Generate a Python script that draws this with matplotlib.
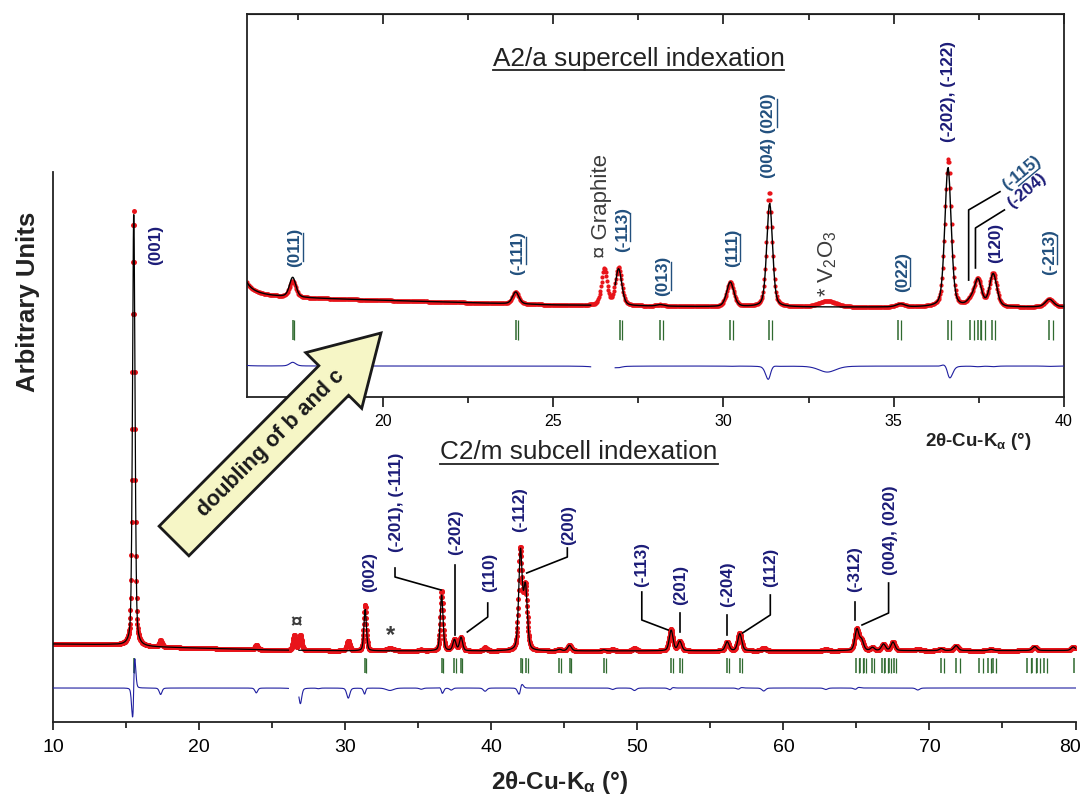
import numpy as np
import matplotlib
matplotlib.use("Agg")
import matplotlib.pyplot as plt
from matplotlib.patches import FancyArrow
from matplotlib.lines import Line2D
from matplotlib.transforms import IdentityTransform, ScaledTranslation
from matplotlib.ticker import MultipleLocator

plt.rcParams['font.family'] = ['Liberation Sans', 'DejaVu Sans']
plt.rcParams['mathtext.default'] = 'regular'

# ---- data ----
two_theta = np.arange(10, 80.001, 0.02)

# background anchors (2theta, intensity)
bg_x = [10, 14, 16, 17.5, 20, 25, 30, 40, 60, 80]
bg_y = [560, 545, 505, 495, 477, 440, 424, 420, 425, 430]

# reflections: position, observed height, fwhm, C2/m fit height, A2/a fit height, fit offset
peak_pos = [15.50, 17.35, 23.90, 26.50, 26.92, 28.15, 30.20, 31.35, 33.05, 35.20,
            36.60, 37.25, 37.47, 37.92, 39.57, 41.98, 42.33, 44.65, 45.35, 47.70,
            48.30, 49.80, 52.30, 52.90, 56.15, 57.00, 58.65, 62.90, 65.02, 65.35,
            66.10, 66.85, 67.50, 69.20, 70.80, 71.82, 74.20, 77.20, 79.85]
peak_obs = [8700, 130, 97, 300, 308, 12, 202, 930, 49, 24,
            1200, 40, 220, 270, 65, 2000, 1250, 30, 110, 20,
            30, 50, 430, 190, 180, 350, 60, 30, 430, 200,
            60, 130, 170, 40, 40, 100, 25, 80, 70]
peak_fwhm = [0.20, 0.22, 0.22, 0.20, 0.22, 0.25, 0.25, 0.20, 0.60, 0.30,
             0.22, 0.25, 0.25, 0.25, 0.28, 0.28, 0.30, 0.30, 0.30, 0.30,
             0.30, 0.30, 0.30, 0.30, 0.30, 0.32, 0.30, 0.30, 0.32, 0.32,
             0.30, 0.32, 0.32, 0.30, 0.30, 0.35, 0.35, 0.35, 0.35]
peak_sub = [8700, 0, 0, 0, 0, 0, 0, 826, 0, 0,
            1118, 0, 220, 270, 0, 1960, 1250, 30, 110, 20,
            0, 0, 410, 190, 180, 340, 0, 0, 420, 200,
            60, 130, 170, 0, 40, 100, 25, 80, 70]
peak_sup = [8700, 160, 97, 0, 300, 12, 200, 840, 0, 24,
            1130, 40, 215, 265, 62, 1960, 1250, 30, 110, 20,
            30, 50, 410, 190, 180, 340, 60, 30, 420, 200,
            60, 130, 170, 40, 40, 100, 25, 80, 70]
peak_dx = [0.01, 0, 0, 0, 0, 0, 0, 0.006, 0, 0,
           -0.006, 0, 0, 0, 0, 0.01, 0, 0, 0, 0,
           0, 0, 0.01, 0, 0, 0.01, 0, 0, 0.01, 0,
           0, 0, 0, 0, 0, 0, 0, 0, 0]

excluded = (26.1, 26.8)

# Bragg positions
ticks_sub = [15.5, 31.35, 36.6, 37.45, 37.92, 42.0, 42.38, 44.65, 45.35, 47.7,
             52.3, 52.93, 56.15, 57.03, 65.0, 65.25, 65.5, 66.05, 66.73, 66.97,
             67.2, 67.55, 70.8, 71.85, 73.42, 74.0, 74.33, 76.7, 77.05, 77.35,
             77.85, 79.9]
ticks_sup = [17.35, 23.9, 26.95, 28.15, 30.2, 31.35, 35.13, 36.58, 37.25, 37.47,
             37.57, 37.88, 39.57]

# annotations, main plot (text, 2theta, intensity at text start)
main_text = ["(001)", "(002)", "(-201), (-111)", "(-202)", "(110)", "(-112)", "(200)",
             "(-113)", "(201)", "(-204)", "(112)", "(-312)", "(004), (020)"]
main_tx = [17.03, 31.67, 33.47, 37.57, 39.85, 41.92, 45.27, 50.32, 52.93, 56.18, 59.1, 64.9, 67.36]
main_ty = [8140, 1600, 2400, 2340, 1600, 2800, 2540, 1700, 1340, 1300, 1700, 1600, 1940]
main_leaders = [[(33.4, 2080), (33.4, 1900), (36.55, 1640)],
                [(37.48, 2140), (37.48, 740)],
                [(39.75, 1380), (39.75, 1100), (38.35, 800)],
                [(45.2, 2480), (45.2, 2300), (42.42, 1980)],
                [(50.3, 1600), (50.3, 1040), (52.1, 840)],
                [(52.92, 1180), (52.92, 800)],
                [(56.15, 1140), (56.15, 740)],
                [(59.1, 1540), (59.1, 1140), (57.2, 780)],
                [(64.9, 1400), (64.9, 1040)],
                [(67.2, 1780), (67.2, 1180), (65.38, 940)]]

# annotations, inset
ins_text = ["(011)", "(-111)", "(-113)", "(013)", "(111)", "(004) (020)", "(022)",
            "(-202), (-122)", "(120)", "(-213)"]
ins_tx = [17.42, 23.97, 27.03, 28.22, 30.26, 31.33, 35.25, 36.6, 38.0, 39.57]
ins_ty = [748, 683, 869, 513, 748, 1469, 545, 1760, 780, 683]
ins_under = [("(", "011"), ("(-", "111"), ("(-", "113"), ("(", "013"), ("(", "111"),
             ("(004) (", "020"), ("(", "022"), None, None, ("(-", "213")]
ins_slant_text = ["(-115)", "(-204)"]
ins_slant_x = [38.26, 38.40]
ins_slant_y = [1395, 1245]
ins_leaders = [[(37.2, 642), (37.2, 1210), (38.12, 1358)],
               [(37.4, 740), (37.4, 1064), (38.25, 1210)]]


def pv(x, x0, h, w, eta=0.35):
    u = (x - x0) / w
    return h * (eta / (1 + 4 * u ** 2) + (1 - eta) * np.exp(-4 * np.log(2) * u ** 2))


bg = np.interp(two_theta, bg_x, bg_y)
obs = bg.copy()
calc_sub = bg.copy()
calc_sup = bg.copy()
for p, ho, w, hs, hp, d in zip(peak_pos, peak_obs, peak_fwhm, peak_sub, peak_sup, peak_dx):
    obs += pv(two_theta, p, ho, w)
    calc_sub += pv(two_theta, p + d, hs, w)
    calc_sup += pv(two_theta, p + d, hp, w)
gap = (two_theta > excluded[0]) & (two_theta < excluded[1])
calc_sub[gap] = np.nan
calc_sup[gap] = np.nan
diff_sub = calc_sub - obs - 320
diff_sup = calc_sup - obs - 54


def ka2(pos):
    th = np.radians(np.array(pos) / 2)
    return 2 * np.degrees(np.arcsin(1.54439 / 1.54056 * np.sin(th)))


W, H = 1083, 798
fig = plt.figure(figsize=(W / 100, H / 100), dpi=100)


def rect(l, t, r, b):
    return [l / W, 1 - b / H, (r - l) / W, (b - t) / H]


def ftext(x, y, s, **kw):
    return fig.text(x / W, 1 - y / H, s, **kw)


RED = '#e8141a'
BLUE = '#1f1fa0'
GREEN = '#2f6a2f'
NAVY = '#1c1c78'
TEAL = '#22507e'
GRAY = '#3c3c3c'

# ---- main plot ----
ax = fig.add_axes(rect(53.3, 172, 1075.5, 722))
ax.set_xlim(10, 80)
ax.set_ylim(-1000, 10000)
for s in ['top', 'right']:
    ax.spines[s].set_visible(False)
for s in ['left', 'bottom']:
    ax.spines[s].set_linewidth(1.3)
    ax.spines[s].set_color('#222222')
ax.set_yticks([])
ax.set_xticks([10, 20, 30, 40, 50, 60, 70, 80])
ax.xaxis.set_minor_locator(MultipleLocator(5))
ax.tick_params(axis='x', which='major', direction='out', length=6, width=1.1, labelsize=14, pad=6.5)
ax.tick_params(axis='x', which='minor', direction='out', length=4, width=1.1)

ax.plot(two_theta, obs, 'o', ms=3.6, mew=0, color=RED, zorder=2)
ax.plot(two_theta, calc_sub, color='k', lw=0.9, zorder=3)
ax.plot(two_theta, diff_sub, color=BLUE, lw=0.8, zorder=3)
ax.vlines(ticks_sub, -20, 280, color=GREEN, lw=1.1)
ax.vlines(ka2(ticks_sub), -20, 280, color=GREEN, lw=0.9)

main_objs = []
for s, x, y in zip(main_text, main_tx, main_ty):
    main_objs.append(ax.text(x, y, s, rotation=90, rotation_mode='anchor', ha='left', va='center',
                             fontsize=12.3, fontweight='bold', color=NAVY))
for pts in main_leaders:
    xs, ys = zip(*pts)
    ax.plot(xs, ys, color='k', lw=1.2, zorder=4)
ax.text(26.65, 980, '¤', ha='center', va='center', fontsize=15, fontweight='bold', color=GRAY)
ax.text(33.1, 720, '*', ha='center', va='center', fontsize=17, fontweight='bold', color=GRAY)

# ---- inset ----
ins = fig.add_axes(rect(246.7, 14, 1064, 397))
ins.set_zorder(2)
ins.set_xlim(16, 40)
ins.set_ylim(-305, 2797)
ins.set_yticks([])
for s in ins.spines.values():
    s.set_linewidth(1.3)
    s.set_color('#222222')
ins.xaxis.set_major_locator(MultipleLocator(5))
ins.xaxis.set_minor_locator(MultipleLocator(2.5))
ins.tick_params(axis='x', which='major', direction='out', length=7.5, width=1.1, labelsize=11.5, pad=5)
ins.tick_params(axis='x', which='minor', direction='out', length=4.3, width=1.1)
top = ins.secondary_xaxis('top')
top.xaxis.set_major_locator(MultipleLocator(5))
top.xaxis.set_minor_locator(MultipleLocator(2.5))
top.tick_params(axis='x', which='major', direction='in', length=7.5, width=1.1, labeltop=False)
top.tick_params(axis='x', which='minor', direction='in', length=4.3, width=1.1)

sel = two_theta <= 40.5
ins.plot(two_theta[sel], obs[sel], 'o', ms=3.0, mew=0, color=RED, zorder=2)
ins.plot(two_theta[sel], calc_sup[sel], color='k', lw=1.0, zorder=3)
ins.plot(two_theta[sel], diff_sup[sel], color=BLUE, lw=0.8, zorder=3)
ins.vlines(ticks_sup, 156, 318, color=GREEN, lw=1.1)
ins.vlines(ka2(ticks_sup), 156, 318, color=GREEN, lw=0.9)

ins_objs = []
for s, x, y, u in zip(ins_text, ins_tx, ins_ty, ins_under):
    ins_objs.append(ins.text(x, y, s, rotation=90, rotation_mode='anchor', ha='left', va='center',
                             fontsize=12.3, fontweight='bold', color=TEAL if u else NAVY))
slant_objs = []
for s, x, y, c in zip(ins_slant_text, ins_slant_x, ins_slant_y, [TEAL, NAVY]):
    slant_objs.append(ins.text(x, y, s, rotation=40, rotation_mode='anchor', ha='left', va='center',
                               fontsize=12.3, fontweight='bold', color=c))
for pts in ins_leaders:
    xs, ys = zip(*pts)
    ins.plot(xs, ys, color='k', lw=1.2, zorder=4)
ins.text(26.42, 821, '¤ Graphite', rotation=90, rotation_mode='anchor', ha='left', va='center',
         fontsize=16, color=GRAY)
ins.text(33.05, 505, '* V$_2$O$_3$', rotation=90, rotation_mode='anchor', ha='left', va='center',
         fontsize=16, color=GRAY)

# ---- figure texts ----
t_ins = ftext(638.5, 65.7, 'A2/a supercell indexation', ha='center', va='baseline', fontsize=18.8, color='#222222')
t_main = ftext(579, 459.3, 'C2/m subcell indexation', ha='center', va='baseline', fontsize=18.8, color='#222222')
ftext(560, 783, '2θ-Cu-K$_α$ (°)', ha='center', va='center', fontsize=17.5, fontweight='bold', color='#222222')
ftext(978, 441, '2θ-Cu-K$_α$ (°)', ha='center', va='center', fontsize=13.5, fontweight='bold', color='#222222')
ftext(28, 302, 'Arbitrary Units', rotation=90, ha='center', va='center', fontsize=18.5, fontweight='bold',
      color='#222222')

arrow = FancyArrow(174, H - 541, 207, 208, width=42, head_width=79, head_length=67,
                   length_includes_head=True, transform=IdentityTransform(),
                   fc='#f6f6c6', ec='#1a1a1a', lw=2, zorder=5)
fig.add_artist(arrow)
ftext(271, 443, 'doubling of b and c', rotation=45, rotation_mode='anchor', ha='center', va='center',
      fontsize=15.5, fontweight='bold', color='#1a1a1a', zorder=6)

# ---- underlines ----
fig.canvas.draw()
rend = fig.canvas.get_renderer()

# nudge the last tick label so it stays inside the picture
last = ax.xaxis.get_major_ticks()[-1].label1
last.set_transform(last.get_transform() + ScaledTranslation(-6 / 100, 0, fig.dpi_scale_trans))


def underline(t, pre, part, off=None, color=None):
    prop = t.get_fontproperties()
    w0 = rend.get_text_width_height_descent(pre, prop, ismath=False)[0] if pre else 0.0
    w1 = rend.get_text_width_height_descent(pre + part, prop, ismath=False)[0]
    if off is None:
        off = rend.get_text_width_height_descent(t.get_text(), prop, ismath=False)[1] / 2 + 0.5
    a = np.radians(t.get_rotation())
    ux, uy = np.cos(a), np.sin(a)
    px, py = np.sin(a), -np.cos(a)
    x0, y0 = t.get_transform().transform(t.get_position())
    xs = [x0 + ux * w0 + px * off, x0 + ux * w1 + px * off]
    ys = [y0 + uy * w0 + py * off, y0 + uy * w1 + py * off]
    fig.add_artist(Line2D(xs, ys, transform=IdentityTransform(), lw=1.0,
                          color=color or t.get_color(), zorder=7))


for t, u in zip(ins_objs, ins_under):
    if u:
        underline(t, u[0], u[1])
underline(slant_objs[0], "(-", "115")
for t in [t_ins, t_main]:
    bb = t.get_window_extent(rend)
    fig.add_artist(Line2D([bb.x0, bb.x1], [bb.y0 + 0.5, bb.y0 + 0.5], transform=IdentityTransform(),
                          lw=1.3, color='#222222', zorder=7))

fig.savefig('out.png', dpi=100)
